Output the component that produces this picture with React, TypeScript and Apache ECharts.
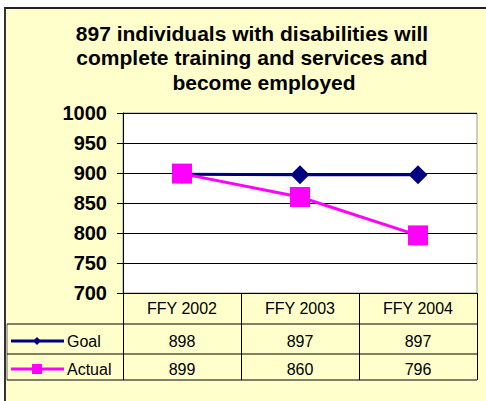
import React, { useEffect, useRef } from "react";
import * as echarts from "echarts";

const titleLines = [
  "897 individuals with disabilities will",
  "complete training and services and",
  "become employed",
];
const categories = ["FFY 2002", "FFY 2003", "FFY 2004"];
const goalValues = [898, 897, 897];
const actualValues = [899, 860, 796];
const seriesNames = ["Goal", "Actual"];
const yTicks = { min: 700, max: 1000, interval: 50 };

const FONT = "'Liberation Sans', Arial, sans-serif";
const GOAL_COLOR = "#000080";
const ACTUAL_COLOR = "#FF00FF";

export default function App() {
  const ref = useRef<HTMLDivElement>(null);

  useEffect(() => {
    if (!ref.current) return;
    const chart = echarts.init(ref.current, undefined, { renderer: "svg" });

    const base: any = {
      animation: false,
      backgroundColor: "#ffffff",
      grid: {
        left: 123,
        right: 9,
        top: 113,
        bottom: 108,
        show: true,
        backgroundColor: "#ffffff",
        borderColor: "#9a9a9a",
        borderWidth: 1,
      },
      xAxis: {
        type: "category",
        data: categories,
        boundaryGap: true,
        axisLine: { show: true, lineStyle: { color: "#000", width: 1 } },
        axisTick: { show: true, length: 87, lineStyle: { color: "#000", width: 1 } },
        axisLabel: { color: "#000", fontSize: 16, fontFamily: FONT, margin: 7 },
        splitLine: { show: false },
      },
      yAxis: {
        type: "value",
        min: yTicks.min,
        max: yTicks.max,
        interval: yTicks.interval,
        axisLine: { show: true, lineStyle: { color: "#000", width: 1 } },
        axisTick: { show: true, length: 6, lineStyle: { color: "#000" } },
        axisLabel: {
          color: "#000",
          fontSize: 20,
          fontWeight: "bold",
          fontFamily: FONT,
          margin: 16,
          formatter: (v: number) => String(v),
        },
        splitLine: { show: true, lineStyle: { color: "#000", width: 1 } },
      },
      series: [
        {
          name: seriesNames[0],
          type: "line",
          data: goalValues,
          symbol: "diamond",
          symbolSize: 19,
          itemStyle: { color: GOAL_COLOR },
          lineStyle: { color: GOAL_COLOR, width: 3 },
          z: 3,
        },
        {
          name: seriesNames[1],
          type: "line",
          data: actualValues,
          symbol: "rect",
          symbolSize: 20,
          itemStyle: { color: ACTUAL_COLOR },
          lineStyle: { color: ACTUAL_COLOR, width: 3 },
          z: 4,
        },
      ],
    };
    chart.setOption(base);

    const xs = categories.map((_, i) => chart.convertToPixel({ xAxisIndex: 0 }, i) as number);
    const bottomY = chart.convertToPixel({ yAxisIndex: 0 }, yTicks.min) as number;
    const band = xs.length > 1 ? xs[1] - xs[0] : 118;
    const rightX = xs[xs.length - 1] + band / 2;
    const tableLeft = 7;
    const rowTops = [bottomY + 31, bottomY + 61, bottomY + 87];
    const goalY = rowTops[0] + 17;
    const actualY = rowTops[1] + 15;

    const graphics: any[] = [
      { type: "rect", z: -100, silent: true, shape: { x: 5, y: 8, width: 481, height: 393 }, style: { fill: "#FFFFCC" } },
      { type: "line", z: 100, shape: { x1: 4, y1: 8, x2: 486, y2: 8 }, style: { stroke: "#222", lineWidth: 2 } },
      { type: "line", z: 100, shape: { x1: 5, y1: 8, x2: 5, y2: 401 }, style: { stroke: "#333", lineWidth: 2 } },
      { type: "line", z: 100, shape: { x1: tableLeft, y1: rowTops[0], x2: tableLeft, y2: rowTops[2] }, style: { stroke: "#666", lineWidth: 1 } },
      ...rowTops.map((y) => ({
        type: "line",
        z: 100,
        shape: { x1: tableLeft, y1: y, x2: rightX, y2: y },
        style: { stroke: "#000", lineWidth: 1 },
      })),
      ...titleLines.map((t, i) => ({
        type: "text",
        z: 100,
        x: i === 2 ? 264 : 252,
        y: 33 + i * 24.5,
        style: {
          text: t,
          fill: "#000",
          font: `bold 21px ${FONT}`,
          align: "center",
          verticalAlign: "middle",
        },
      })),
      // legend keys
      { type: "line", z: 100, shape: { x1: 11, y1: goalY, x2: 64, y2: goalY }, style: { stroke: GOAL_COLOR, lineWidth: 3 } },
      { type: "polygon", z: 101, shape: { points: [[37, goalY - 4], [41, goalY], [37, goalY + 4], [33, goalY]] }, style: { fill: GOAL_COLOR } },
      { type: "text", z: 100, x: 67, y: goalY, style: { text: seriesNames[0], fill: "#000", font: `16px ${FONT}`, align: "left", verticalAlign: "middle" } },
      { type: "line", z: 100, shape: { x1: 11, y1: actualY, x2: 64, y2: actualY }, style: { stroke: ACTUAL_COLOR, lineWidth: 3 } },
      { type: "rect", z: 101, shape: { x: 32, y: actualY - 5, width: 10, height: 10 }, style: { fill: ACTUAL_COLOR } },
      { type: "text", z: 100, x: 67, y: actualY, style: { text: seriesNames[1], fill: "#000", font: `16px ${FONT}`, align: "left", verticalAlign: "middle" } },
      ...goalValues.map((v, i) => ({
        type: "text",
        z: 100,
        x: xs[i],
        y: goalY,
        style: { text: String(v), fill: "#000", font: `16px ${FONT}`, align: "center", verticalAlign: "middle" },
      })),
      ...actualValues.map((v, i) => ({
        type: "text",
        z: 100,
        x: xs[i],
        y: actualY,
        style: { text: String(v), fill: "#000", font: `16px ${FONT}`, align: "center", verticalAlign: "middle" },
      })),
    ];
    chart.setOption({ graphic: graphics });

    return () => chart.dispose();
  }, []);

  return (
    <div
      ref={ref}
      style={{ position: "absolute", left: 0, top: 0, width: 486, height: 401 }}
    />
  );
}
